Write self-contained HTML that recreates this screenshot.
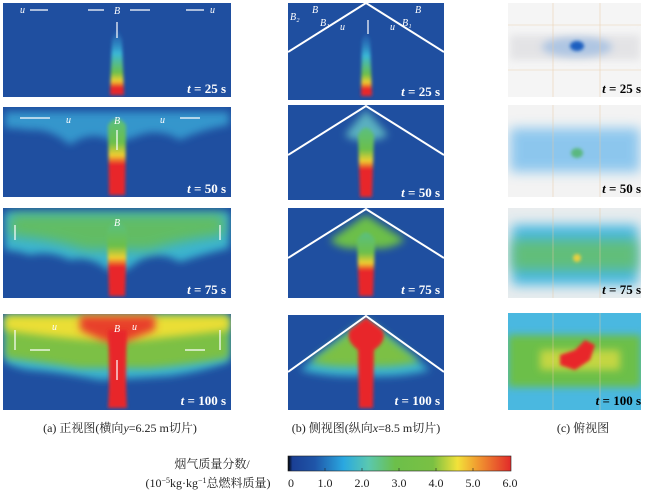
<!DOCTYPE html><html><head><meta charset="utf-8"><style>
body{margin:0;background:#fff}
svg{display:block;font-family:"Liberation Serif","Noto Serif CJK SC",serif}
</style></head><body>
<svg width="650" height="490" viewBox="0 0 650 490" xmlns="http://www.w3.org/2000/svg">
<defs>
<filter id="b2" x="-50%" y="-50%" width="200%" height="200%"><feGaussianBlur stdDeviation="1.5"/></filter>
<filter id="b4" x="-50%" y="-50%" width="200%" height="200%"><feGaussianBlur stdDeviation="4"/></filter>
<filter id="b6" x="-50%" y="-50%" width="200%" height="200%"><feGaussianBlur stdDeviation="6"/></filter>
<linearGradient id="cb" x1="0" x2="1">
<stop offset="0" stop-color="#000"/><stop offset="0.02" stop-color="#1a3f95"/><stop offset="0.12" stop-color="#1f55a8"/><stop offset="0.25" stop-color="#2aa8e0"/><stop offset="0.36" stop-color="#5ac8b0"/><stop offset="0.48" stop-color="#6cbf4a"/><stop offset="0.65" stop-color="#7ac043"/><stop offset="0.76" stop-color="#f2e23a"/><stop offset="0.85" stop-color="#f19a30"/><stop offset="1" stop-color="#e22a2a"/></linearGradient>
<linearGradient id="plume" x1="0" y1="1" x2="0" y2="0">
<stop offset="0" stop-color="#e8262a"/><stop offset="0.12" stop-color="#e8262a"/><stop offset="0.22" stop-color="#f0d030"/><stop offset="0.35" stop-color="#6cbf4a"/><stop offset="0.65" stop-color="#3ab8d8"/><stop offset="1" stop-color="#2a70c0" stop-opacity="0.3"/></linearGradient>
<linearGradient id="plume2" x1="0" y1="1" x2="0" y2="0">
<stop offset="0" stop-color="#e8262a"/><stop offset="0.4" stop-color="#e8262a"/><stop offset="0.52" stop-color="#f0d030"/><stop offset="0.68" stop-color="#6cbf4a"/><stop offset="1" stop-color="#5abf80"/></linearGradient>
<clipPath id="ca1"><rect x="3" y="3" width="228" height="94"/></clipPath>
<clipPath id="ca2"><rect x="3" y="107" width="228" height="90"/></clipPath>
<clipPath id="ca3"><rect x="3" y="208" width="228" height="90"/></clipPath>
<clipPath id="ca4"><rect x="3" y="314" width="228" height="96"/></clipPath>
<clipPath id="cb1"><rect x="288" y="3" width="156" height="97"/></clipPath>
<clipPath id="cb2"><rect x="288" y="105" width="156" height="95"/></clipPath>
<clipPath id="cb3"><rect x="288" y="208" width="156" height="90"/></clipPath>
<clipPath id="cb4"><rect x="288" y="315" width="156" height="95"/></clipPath>
<clipPath id="cc1"><rect x="508" y="3" width="133" height="94"/></clipPath>
<clipPath id="cc2"><rect x="508" y="105" width="133" height="92"/></clipPath>
<clipPath id="cc3"><rect x="508" y="208" width="133" height="90"/></clipPath>
<clipPath id="cc4"><rect x="508" y="313" width="133" height="97"/></clipPath>
</defs>

<!-- column a -->
<g clip-path="url(#ca1)"><rect x="3" y="3" width="228" height="94" fill="#1f4fa0"/>
<path d="M110 95 L112 40 Q117 22 122 40 L124 95Z" fill="url(#plume)" filter="url(#b2)"/></g>
<g clip-path="url(#ca2)"><rect x="3" y="107" width="228" height="90" fill="#1f4fa0"/>
<path d="M5 112 H229 V125 Q200 130 180 140 Q160 128 140 135 L126 140 L110 140 Q90 130 70 145 Q50 128 30 130 Q15 128 5 128Z" fill="#3aa8d8" opacity="0.8" filter="url(#b4)"/>
<path d="M109 195 L108 125 Q117 112 126 125 L125 195Z" fill="url(#plume2)" filter="url(#b2)"/></g>
<g clip-path="url(#ca3)"><rect x="3" y="208" width="228" height="90" fill="#1f4fa0"/>
<path d="M5 212 H229 V248 Q200 255 180 262 Q160 250 140 260 L126 270 L108 270 Q90 255 70 260 Q50 250 30 255 Q15 250 5 250Z" fill="#3ab4d0" filter="url(#b4)"/>
<path d="M10 214 H224 V235 Q180 240 150 250 L85 250 Q50 238 10 236Z" fill="#6cbf4a" opacity="0.8" filter="url(#b6)"/>
<path d="M109 296 L107 230 Q117 215 127 230 L125 296Z" fill="url(#plume2)" filter="url(#b2)"/></g>
<g clip-path="url(#ca4)"><rect x="3" y="314" width="228" height="96" fill="#1f4fa0"/>
<path d="M5 316 H229 V362 Q200 372 170 376 L140 378 L100 380 Q60 372 30 370 Q15 368 5 362Z" fill="#3ab4d0" filter="url(#b4)"/>
<path d="M5 316 H229 V358 Q190 365 150 368 L80 368 Q40 362 5 358Z" fill="#7cc045" filter="url(#b4)"/>
<path d="M5 316 H229 V330 Q180 336 140 340 L90 340 Q40 336 5 330Z" fill="#eade36" filter="url(#b4)"/>
<path d="M80 316 H155 V330 Q130 340 117 345 Q100 340 80 330Z" fill="#e8402a" filter="url(#b4)"/>
<path d="M108 408 Q110 380 108 330 L127 330 Q125 380 127 408Z" fill="#e8262a" filter="url(#b2)"/></g>

<!-- column b -->
<g clip-path="url(#cb1)"><rect x="288" y="3" width="156" height="97" fill="#1f4fa0"/>
<path d="M361 96 L362 40 Q366 28 370 40 L372 96Z" fill="url(#plume)" filter="url(#b2)"/>
<path d="M288 52 L366 3 L444 52" fill="none" stroke="#fff" stroke-width="2"/></g>
<g clip-path="url(#cb2)"><rect x="288" y="105" width="156" height="95" fill="#1f4fa0"/>
<path d="M345 135 L366 110 L388 135 Q380 140 372 140 L360 140 Q350 140 345 135Z" fill="#5ab0c0" filter="url(#b4)"/>
<path d="M360 197 L358 135 Q366 120 374 135 L372 197Z" fill="url(#plume2)" filter="url(#b2)"/>
<path d="M288 155 L366 106 L444 155" fill="none" stroke="#fff" stroke-width="2"/></g>
<g clip-path="url(#cb3)"><rect x="288" y="208" width="156" height="90" fill="#1f4fa0"/>
<path d="M330 240 L366 215 L405 240 Q390 250 375 248 L358 248 Q340 250 330 240Z" fill="#6cbf4a" filter="url(#b4)"/>
<path d="M359 296 L357 240 Q366 225 375 240 L373 296Z" fill="url(#plume2)" filter="url(#b2)"/>
<path d="M288 258 L366 209 L444 258" fill="none" stroke="#fff" stroke-width="2"/></g>
<g clip-path="url(#cb4)"><rect x="288" y="315" width="156" height="95" fill="#1f4fa0"/>
<path d="M300 370 L366 320 L430 370 Q400 378 366 376 Q330 378 300 370Z" fill="#3ab4d0" filter="url(#b4)"/>
<path d="M310 362 L366 320 L420 362 Q390 368 366 366 Q330 368 310 362Z" fill="#7cc045" filter="url(#b4)"/>
<path d="M359 408 L358 350 Q345 340 350 330 L366 318 L382 330 Q388 340 374 350 L373 408Z" fill="#e8262a" filter="url(#b2)"/>
<path d="M288 372 L366 316 L444 372" fill="none" stroke="#fff" stroke-width="2"/></g>

<!-- column c -->
<g clip-path="url(#cc1)"><rect x="508" y="3" width="133" height="94" fill="#f5f5f5"/>
<rect x="510" y="35" width="130" height="25" fill="#d8d8dc" opacity="0.6" filter="url(#b4)"/>
<ellipse cx="577" cy="47" rx="35" ry="10" fill="#7aa8e0" opacity="0.5" filter="url(#b4)"/>
<ellipse cx="577" cy="46" rx="7" ry="5" fill="#1a5ec0" filter="url(#b2)"/></g>
<g clip-path="url(#cc2)"><rect x="508" y="105" width="133" height="92" fill="#f3f3f3"/>
<rect x="510" y="128" width="130" height="44" fill="#6ab8ec" opacity="0.75" filter="url(#b6)"/>
<ellipse cx="577" cy="153" rx="6" ry="5" fill="#5ab880" filter="url(#b2)"/></g>
<g clip-path="url(#cc3)"><rect x="508" y="208" width="133" height="90" fill="#e8ecee"/>
<rect x="512" y="225" width="126" height="60" fill="#4ab8e0" filter="url(#b6)"/>
<rect x="512" y="240" width="126" height="30" fill="#68c060" opacity="0.8" filter="url(#b6)"/>
<circle cx="577" cy="258" r="4" fill="#e8d040" filter="url(#b2)"/></g>
<g clip-path="url(#cc4)"><rect x="508" y="313" width="133" height="97" fill="#4ab8e0"/>
<rect x="508" y="335" width="133" height="52" fill="#6cbf4a" filter="url(#b4)"/>
<rect x="540" y="350" width="80" height="20" fill="#e8e040" opacity="0.7" filter="url(#b4)"/>
<path d="M560 355 L575 350 L585 340 L595 345 L590 360 L575 370 L560 365Z" fill="#e8262a" filter="url(#b2)"/></g>
<g stroke="#e8c8a0" stroke-width="0.6" fill="none" opacity="0.8">
<path d="M553 3V97M600 3V97M508 25H641M508 70H641M553 105V197M600 105V197M553 208V298M600 208V298M553 313V410M600 313V410"/></g>

<!-- time labels -->
<g font-weight="bold" font-size="13" fill="#fff" text-anchor="end">
<text x="226" y="93"><tspan font-style="italic">t</tspan> = 25 s</text>
<text x="226" y="193"><tspan font-style="italic">t</tspan> = 50 s</text>
<text x="226" y="294"><tspan font-style="italic">t</tspan> = 75 s</text>
<text x="226" y="405"><tspan font-style="italic">t</tspan> = 100 s</text>
<text x="440" y="96"><tspan font-style="italic">t</tspan> = 25 s</text>
<text x="440" y="197"><tspan font-style="italic">t</tspan> = 50 s</text>
<text x="440" y="294"><tspan font-style="italic">t</tspan> = 75 s</text>
<text x="440" y="405"><tspan font-style="italic">t</tspan> = 100 s</text>
</g>
<g font-weight="bold" font-size="13" fill="#000" text-anchor="end">
<text x="641" y="93"><tspan font-style="italic">t</tspan> = 25 s</text>
<text x="641" y="193"><tspan font-style="italic">t</tspan> = 50 s</text>
<text x="641" y="294"><tspan font-style="italic">t</tspan> = 75 s</text>
<text x="641" y="405"><tspan font-style="italic">t</tspan> = 100 s</text>
</g>
<g fill="#fff" font-style="italic" font-size="10">
<text x="20" y="13">u</text><text x="210" y="13">u</text><text x="114" y="14">B</text>
<text x="66" y="123">u</text><text x="160" y="123">u</text><text x="114" y="124">B</text>
<text x="114" y="226">B</text><text x="114" y="332">B</text><text x="52" y="330">u</text><text x="132" y="330">u</text>
<text x="290" y="20">B₂</text><text x="312" y="13">B</text><text x="320" y="26">B₁</text><text x="340" y="30">u</text>
<text x="415" y="13">B</text><text x="402" y="26">B₁</text><text x="390" y="30">u</text>
</g>
<g stroke="#fff" stroke-width="1.2">
<path d="M30 10H48M88 10H104M130 10H150M186 10H204M117 38V22M368 34V20"/>
<path d="M20 118H40M40 118H50M180 118H200M117 150V130M15 225V240M220 225V240M15 330V350M220 330V350M30 350H50M185 350H205M117 380V360"/>
</g>

<!-- captions -->
<g font-size="12" fill="#222" text-anchor="middle">
<text x="120" y="432">(a) 正视图(横向<tspan font-style="italic">y</tspan>=6.25 m切片)</text>
<text x="366" y="432">(b) 侧视图(纵向<tspan font-style="italic">x</tspan>=8.5 m切片)</text>
<text x="583" y="432">(c) 俯视图</text>
</g>
<rect x="288" y="456" width="223" height="15" fill="url(#cb)" stroke="#222" stroke-width="0.6"/>
<g stroke="#222" stroke-width="0.6"><path d="M325 471v-3M362 471v-3M399 471v-3M436 471v-3M473 471v-3"/></g>
<g font-size="12" fill="#222" text-anchor="middle">
<text x="291" y="487">0</text><text x="325" y="487">1.0</text><text x="362" y="487">2.0</text><text x="399" y="487">3.0</text><text x="436" y="487">4.0</text><text x="473" y="487">5.0</text><text x="510" y="487">6.0</text>
<text x="212" y="468">烟气质量分数/</text>
<text x="208" y="487">(10<tspan font-size="8" dy="-4">−5</tspan><tspan dy="4">kg·kg</tspan><tspan font-size="8" dy="-4">−1</tspan><tspan dy="4">总燃料质量)</tspan></text>
</g>
</svg>
</body></html>
